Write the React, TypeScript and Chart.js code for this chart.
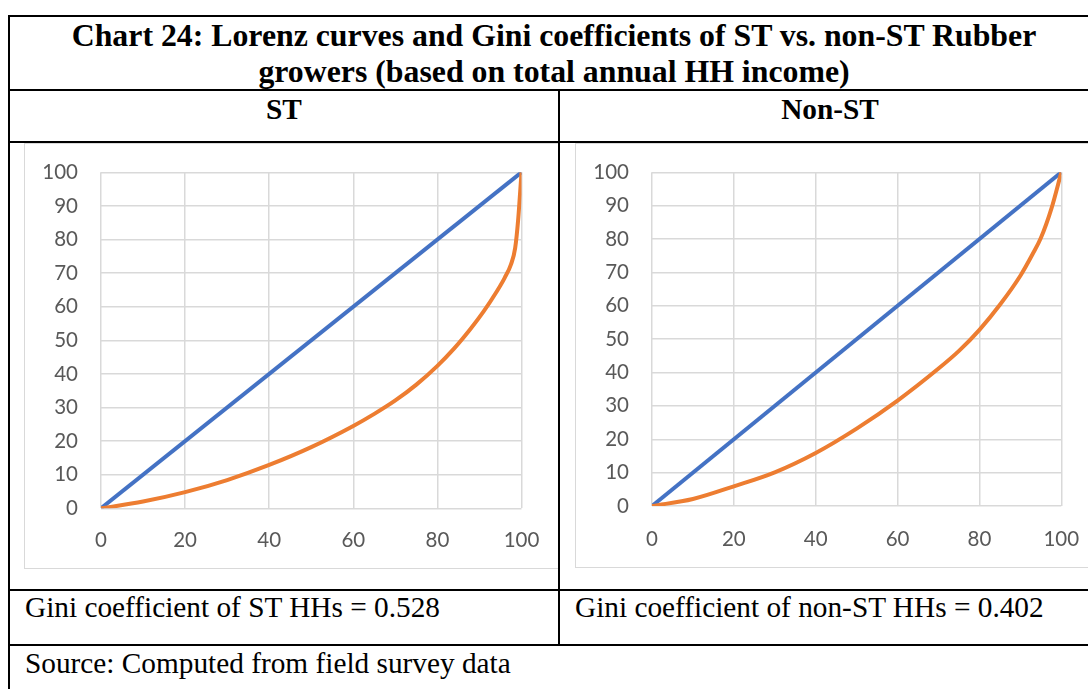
import React, { useEffect, useRef } from "react";
import { Chart, registerables } from "chart.js";

Chart.register(...registerables);

// ---------- data ----------
const xTicks = [0, 20, 40, 60, 80, 100];
const yTicks = [0, 10, 20, 30, 40, 50, 60, 70, 80, 90, 100];

const equalityX = [0, 100];
const equalityY = [0, 100];

// Lorenz curve, ST households (cumulative % of HHs vs cumulative % of income)
const stX = [0, 10, 20, 30, 40, 50, 60, 65, 70, 75, 80, 84, 88, 91, 94, 96, 97.5, 98.5, 99.2, 99.6, 100];
const stY = [0, 2.0, 4.8, 8.4, 12.9, 18.2, 24.5, 28.1, 32.1, 36.8, 42.4, 47.6, 53.6, 58.6, 64.3, 68.6, 72.6, 77.5, 85.8, 92.7, 100];

// Lorenz curve, non-ST households
const nonStX = [0, 10, 20, 30, 40, 50, 60, 70, 75, 80, 85, 90, 93, 95, 97.6, 100];
const nonStY = [0, 2.1, 5.9, 10.1, 15.9, 23.2, 31.6, 41.2, 46.5, 52.8, 60.3, 69.0, 75.5, 80.3, 89.2, 100];

const titleLines = [
  "Chart 24: Lorenz curves and Gini coefficients of ST vs. non-ST Rubber",
  "growers (based on total annual HH income)",
];
const headers = ["ST", "Non-ST"];
const giniTexts = ["Gini coefficient of ST HHs = 0.528", "Gini coefficient of non-ST HHs = 0.402"];
const sourceText = "Source: Computed from field survey data";

const BLUE = "#4472C4";
const ORANGE = "#ED7D31";
const GRID = "#d9d9d9";
const TICK = "#595959";

type Pad = { left: number; top: number; right: number; bottom: number };

function LorenzChart(props: {
  lx: number[];
  ly: number[];
  width: number;
  height: number;
  padding: Pad;
  xTickPad: number;
}) {
  const ref = useRef<HTMLCanvasElement>(null);
  useEffect(() => {
    const canvas = ref.current;
    if (!canvas) return;
    let chart: Chart | null = null;
    let cancelled = false;
    const tickFont = { family: "Lato", size: 20.5 };
    const make = () => {
      if (cancelled) return;
      chart = new Chart(canvas, {
        type: "scatter",
        data: {
          datasets: [
            {
              data: props.lx.map((x, i) => ({ x, y: props.ly[i] })),
              borderColor: ORANGE,
              backgroundColor: ORANGE,
              showLine: true,
              pointRadius: 0,
              borderWidth: 4,
              cubicInterpolationMode: "monotone",
              fill: false,
            },
            {
              data: equalityX.map((x, i) => ({ x, y: equalityY[i] })),
              borderColor: BLUE,
              backgroundColor: BLUE,
              showLine: true,
              pointRadius: 0,
              borderWidth: 4,
              fill: false,
            },
          ],
        },
        options: {
          responsive: false,
          animation: false,
          events: [],
          layout: { padding: props.padding, autoPadding: false },
          plugins: {
            legend: { display: false },
            tooltip: { enabled: false },
            title: { display: false },
          },
          scales: {
            x: {
              type: "linear",
              min: 0,
              max: 100,
              afterBuildTicks: (s: any) => {
                s.ticks = xTicks.map((v) => ({ value: v }));
              },
              afterFit: (s: any) => {
                s.height = 60;
                s.paddingLeft = 0;
                s.paddingRight = 0;
                s.paddingTop = 0;
                s.paddingBottom = 0;
              },
              grid: { color: GRID, lineWidth: 1.5, drawTicks: false },
              border: { display: false },
              ticks: {
                padding: props.xTickPad,
                color: TICK,
                font: tickFont,
                maxRotation: 0,
                autoSkip: false,
              },
            },
            y: {
              type: "linear",
              min: 0,
              max: 100,
              afterBuildTicks: (s: any) => {
                s.ticks = yTicks.map((v) => ({ value: v }));
              },
              afterFit: (s: any) => {
                s.width = 77;
                s.paddingLeft = 0;
                s.paddingRight = 0;
                s.paddingTop = 0;
                s.paddingBottom = 0;
              },
              grid: { color: GRID, lineWidth: 1.5, drawTicks: false },
              border: { display: false },
              ticks: {
                padding: 23,
                color: TICK,
                font: tickFont,
                autoSkip: false,
              },
            },
          },
        } as any,
      });
    };
    const fonts: any = (document as any).fonts;
    if (fonts && fonts.load) {
      fonts.load("20px Lato").then(make, make);
    } else {
      make();
    }
    return () => {
      cancelled = true;
      if (chart) chart.destroy();
    };
  }, []);
  return (
    <canvas
      ref={ref}
      width={props.width}
      height={props.height}
      style={{ display: "block", width: props.width, height: props.height }}
    />
  );
}

const abs = (l: number, t: number, w: number, h: number, extra: React.CSSProperties = {}): React.CSSProperties => ({
  position: "absolute",
  left: l,
  top: t,
  width: w,
  height: h,
  ...extra,
});

export default function App() {
  const serif = "'Liberation Serif', 'Times New Roman', serif";
  const black = "#000";
  return (
    <div
      style={{
        position: "fixed",
        left: 0,
        top: 0,
        width: 1088,
        height: 689,
        overflow: "hidden",
        background: "#fff",
        fontFamily: serif,
        color: black,
      }}
    >
      {/* charts */}
      <div style={abs(24, 143, 534, 426)}>
        <LorenzChart
          lx={stX}
          ly={stY}
          width={534}
          height={426}
          padding={{ left: 0, top: 29.3, right: 36.5, bottom: 0.7 }}
          xTickPad={19.7}
        />
      </div>
      <div style={abs(24, 143, 535, 426, { border: `1px solid ${GRID}`, boxSizing: "border-box" })} />

      <div style={abs(575, 143, 534, 425)}>
        <LorenzChart
          lx={nonStX}
          ly={nonStY}
          width={534}
          height={425}
          padding={{ left: 0, top: 29.3, right: 47.7, bottom: 2 }}
          xTickPad={21.3}
        />
      </div>
      <div style={abs(575, 143, 534, 425, { border: `1px solid ${GRID}`, boxSizing: "border-box" })} />

      {/* title */}
      <div
        style={abs(8, 17.7, 1092, 80, {
          textAlign: "center",
          fontWeight: "bold",
          fontSize: 31.8,
          lineHeight: "36.6px",
          whiteSpace: "nowrap",
        })}
      >
        {titleLines[0]}
        <br />
        {titleLines[1]}
      </div>

      {/* headers */}
      <div style={abs(10, 94.5, 548, 30, { textAlign: "center", fontWeight: "bold", fontSize: 29.3, lineHeight: 1, whiteSpace: "nowrap" })}>
        {headers[0]}
      </div>
      <div style={abs(560, 94.5, 540, 30, { textAlign: "center", fontWeight: "bold", fontSize: 29.3, lineHeight: 1, whiteSpace: "nowrap" })}>
        {headers[1]}
      </div>

      {/* gini row */}
      <div style={abs(25, 592.8, 530, 30, { fontSize: 29.3, lineHeight: 1, whiteSpace: "nowrap" })}>{giniTexts[0]}</div>
      <div style={abs(575, 592.8, 530, 30, { fontSize: 29.3, lineHeight: 1, whiteSpace: "nowrap" })}>{giniTexts[1]}</div>

      {/* source */}
      <div style={abs(25, 648.5, 1000, 30, { fontSize: 29.3, lineHeight: 1, whiteSpace: "nowrap" })}>{sourceText}</div>

      {/* table lines */}
      <div style={abs(8, 15, 1100, 2, { background: black })} />
      <div style={abs(8, 15, 2, 700, { background: black })} />
      <div style={abs(8, 89, 1100, 2, { background: black })} />
      <div style={abs(8, 141, 1100, 2, { background: black })} />
      <div style={abs(558, 89, 2, 557, { background: black })} />
      <div style={abs(8, 589, 1100, 2, { background: black })} />
      <div style={abs(8, 644, 1100, 2, { background: black })} />
    </div>
  );
}
